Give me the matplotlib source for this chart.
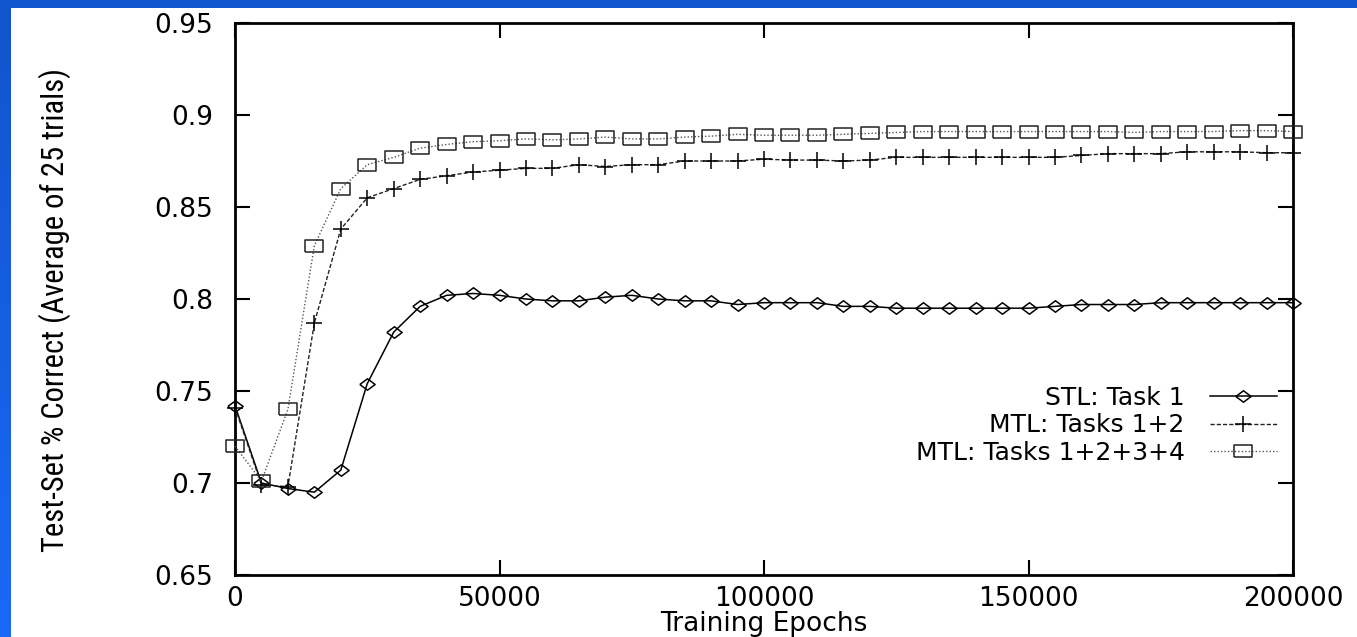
import matplotlib
matplotlib.use("Agg")
import matplotlib.pyplot as plt
import numpy as np
from matplotlib import font_manager
from matplotlib.patches import Rectangle
from matplotlib.ticker import FormatStrFormatter

# test-set accuracy sampled every 5000 epochs
epochs = list(range(0, 200001, 5000))

stl_task1 = [0.742, 0.700, 0.697, 0.695, 0.707, 0.754, 0.782, 0.796, 0.802, 0.803,
             0.802, 0.800, 0.799, 0.799, 0.801, 0.802, 0.800, 0.799, 0.799, 0.797,
             0.798, 0.798, 0.798, 0.796, 0.796, 0.795, 0.795, 0.795, 0.795, 0.795,
             0.795, 0.796, 0.797, 0.797, 0.797, 0.798, 0.798, 0.798, 0.798, 0.798,
             0.798]
mtl_12 = [0.741, 0.699, 0.698, 0.787, 0.838, 0.855, 0.860, 0.865, 0.867, 0.869,
          0.870, 0.871, 0.871, 0.873, 0.872, 0.873, 0.873, 0.875, 0.875, 0.875,
          0.876, 0.8755, 0.8755, 0.875, 0.8755, 0.877, 0.877, 0.877, 0.877, 0.877,
          0.877, 0.877, 0.878, 0.879, 0.879, 0.879, 0.880, 0.880, 0.880, 0.8795,
          0.8795]
mtl_1234 = [0.720, 0.701, 0.740, 0.829, 0.860, 0.873, 0.877, 0.882, 0.884, 0.8855,
            0.886, 0.887, 0.8865, 0.887, 0.888, 0.887, 0.887, 0.888, 0.8885, 0.8895,
            0.889, 0.889, 0.889, 0.8895, 0.890, 0.8905, 0.891, 0.891, 0.891, 0.891,
            0.891, 0.891, 0.891, 0.891, 0.8905, 0.891, 0.891, 0.891, 0.8915, 0.8915,
            0.891]

labels = ["STL: Task 1", "MTL: Tasks 1+2", "MTL: Tasks 1+2+3+4"]
xticks = [0, 50000, 100000, 150000, 200000]
yticks = [0.65, 0.7, 0.75, 0.8, 0.85, 0.9, 0.95]

# gnuplot style markers: flat diamond and wide box
diamond = [(-1, 0), (0, 0.75), (1, 0), (0, -0.75), (-1, 0)]
box = [(-1, -0.7), (1, -0.7), (1, 0.7), (-1, 0.7), (-1, -0.7)]

# narrow face for the y label if one is installed
installed = {f.name for f in font_manager.fontManager.ttflist}
ylab_font, ylab_size = "DejaVu Sans", 18
for name, size in [("Liberation Sans Narrow", 24), ("Roboto Condensed", 22),
                   ("Open Sans Condensed", 22)]:
    if name in installed:
        ylab_font, ylab_size = name, size
        break

W, H = 1357, 637
fig = plt.figure(figsize=(W / 100, H / 100), dpi=100)
fig.patch.set_facecolor("white")

# blue slide frame on the top and left edges
fig.add_artist(Rectangle((0, 1 - 7.5 / H), 1, 7.5 / H, transform=fig.transFigure,
                         color="#1155cc", lw=0))
left = fig.add_axes([0, 0, 11 / W, 1])
left.axis("off")
left.imshow(np.linspace(0, 1, 50).reshape(-1, 1), aspect="auto",
            cmap=matplotlib.colors.LinearSegmentedColormap.from_list(
                "frame", ["#1155cc", "#1a68f8"]))

ax = fig.add_axes([235 / W, 62 / H, 1058 / W, 552 / H])
ax.plot(epochs, stl_task1, color="black", lw=1.1, marker=diamond, ms=11,
        mfc="none", mec="black", mew=1.1, label=labels[0], clip_on=False, zorder=3)
ax.plot(epochs, mtl_12, color="#222222", lw=1.0, ls=(0, (3, 1.5)), marker="+",
        ms=11, mec="black", mew=1.1, label=labels[1], clip_on=False, zorder=3)
ax.plot(epochs, mtl_1234, color="#555555", lw=1.0, ls=(0, (1, 1.5)), marker=box,
        ms=12.5, mfc="none", mec="#222222", mew=1.1, label=labels[2],
        clip_on=False, zorder=3)

ax.set_xlim(0, 200000)
ax.set_ylim(0.65, 0.95)
ax.set_xticks(xticks)
ax.set_yticks(yticks)
ax.yaxis.set_major_formatter(FormatStrFormatter("%g"))
ax.xaxis.set_major_formatter(FormatStrFormatter("%d"))
ax.tick_params(direction="in", length=11, width=1.5, labelsize=19,
               top=True, right=True)
ax.tick_params(axis="y", pad=16)
ax.tick_params(axis="x", pad=8)
for s in ax.spines.values():
    s.set_linewidth(2)

ax.set_xlabel("Training Epochs", fontsize=19, labelpad=-1)
ax.set_ylabel("Test-Set % Correct (Average of 25 trials)", fontsize=ylab_size,
              family=[ylab_font, "DejaVu Sans"])
ax.yaxis.set_label_coords(-0.155, 0.48)

ax.legend(loc="upper right", bbox_to_anchor=(0.985, 0.343), frameon=False,
          markerfirst=False, fontsize=18, labelspacing=0.15, handlelength=2.7,
          handletextpad=1.0, borderpad=0, borderaxespad=0)

fig.savefig("out.png", dpi=100)
